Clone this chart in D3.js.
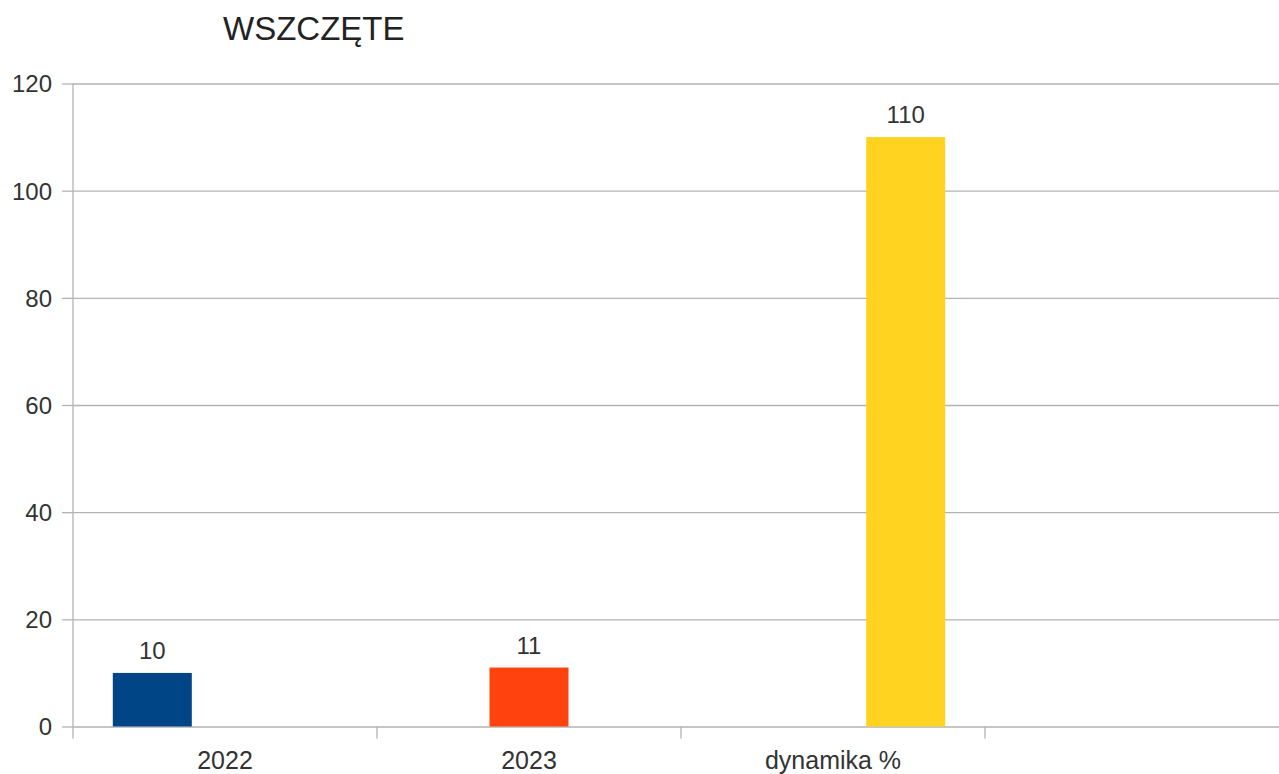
<!DOCTYPE html>
<html>
<head>
<meta charset="utf-8">
<script src="https://cdn.jsdelivr.net/npm/d3@7"></script>
<style>
  body { margin: 0; background: #fff; }
  svg { display: block; font-family: "Liberation Sans", Arial, sans-serif; }
</style>
</head>
<body>
<svg id="chart" width="1279" height="774"></svg>
<script>
const title = 'WSZCZĘTE';
const categories = ['2022', '2023', 'dynamika %', ''];
const seriesNames = ['2022', '2023', 'dynamika %'];
const seriesColors = ['#004586', '#ff420e', '#ffd320'];
// one value per series, each placed in its own category (as in the original sheet)
const seriesValues = [
    [10, null, null, null],
    [null, 11, null, null],
    [null, null, 110, null]
];
const yTicks = [0, 20, 40, 60, 80, 100, 120];

const width = 1279;
const height = 774;
const plot = { left: 73, right: 1289, top: 83.5, bottom: 726.5 };
const barWidth = 79;

const svg = d3.select('#chart');

const x = d3.scaleBand().domain(categories).range([plot.left, plot.right]).padding(0);
const y = d3.scaleLinear().domain([0, 120]).range([plot.bottom, plot.top]);

// series slot centres inside each category
const slot = d3.scalePoint().domain(seriesNames).range([-72.7, 72.7]);

// grid lines
const grid = svg.append('g')
    .attr('transform', `translate(${plot.left},0)`)
    .call(d3.axisRight(y).tickValues(yTicks).tickSize(width - plot.left).tickFormat(''));
grid.select('.domain').remove();
grid.selectAll('line').attr('stroke', '#b3b3b3').attr('stroke-width', 1.3);

// y axis with tick marks and labels
const yAxis = svg.append('g')
    .attr('transform', `translate(${plot.left},0)`)
    .call(d3.axisLeft(y).tickValues(yTicks).tickSize(11).tickPadding(10).tickSizeOuter(0));
yAxis.select('.domain').attr('d', `M0,${plot.top}V${plot.bottom + 12}`).attr('stroke', '#b3b3b3').attr('stroke-width', 1.3);
yAxis.selectAll('line').attr('stroke', '#b3b3b3').attr('stroke-width', 1.3);
yAxis.selectAll('text').attr('fill', '#333').style('font-size', '24px').attr('dy', '0.35em');

// category boundary ticks
svg.append('g').selectAll('line')
    .data(categories.slice(1))
    .join('line')
    .attr('x1', d => x(d)).attr('x2', d => x(d))
    .attr('y1', plot.bottom).attr('y2', plot.bottom + 12)
    .attr('stroke', '#b3b3b3').attr('stroke-width', 1.3);

// category labels
const xAxis = svg.append('g')
    .attr('transform', `translate(0,${plot.bottom})`)
    .call(d3.axisBottom(x).tickSize(0).tickPadding(25));
xAxis.select('.domain').remove();
xAxis.selectAll('text').attr('fill', '#333').style('font-size', '25px').attr('dy', '0.68em');

// bars
const bars = [];
seriesNames.forEach((s, i) => {
    seriesValues[i].forEach((v, j) => {
        if (v != null) bars.push({ series: s, cat: categories[j], value: v, color: seriesColors[i] });
    });
});

svg.append('g').selectAll('rect')
    .data(bars)
    .join('rect')
    .attr('x', d => x(d.cat) + x.bandwidth() / 2 + slot(d.series) - barWidth / 2)
    .attr('y', d => y(d.value))
    .attr('width', barWidth)
    .attr('height', d => y(0) - y(d.value))
    .attr('fill', d => d.color);

svg.append('g').selectAll('text')
    .data(bars)
    .join('text')
    .attr('x', d => x(d.cat) + x.bandwidth() / 2 + slot(d.series))
    .attr('y', d => y(d.value) - 14)
    .attr('text-anchor', 'middle')
    .attr('fill', '#333')
    .style('font-size', '24px')
    .text(d => d.value);

svg.append('text')
    .attr('x', 223)
    .attr('y', 40)
    .attr('fill', '#222')
    .style('font-size', '33px')
    .text(title);
</script>
</body>
</html>
